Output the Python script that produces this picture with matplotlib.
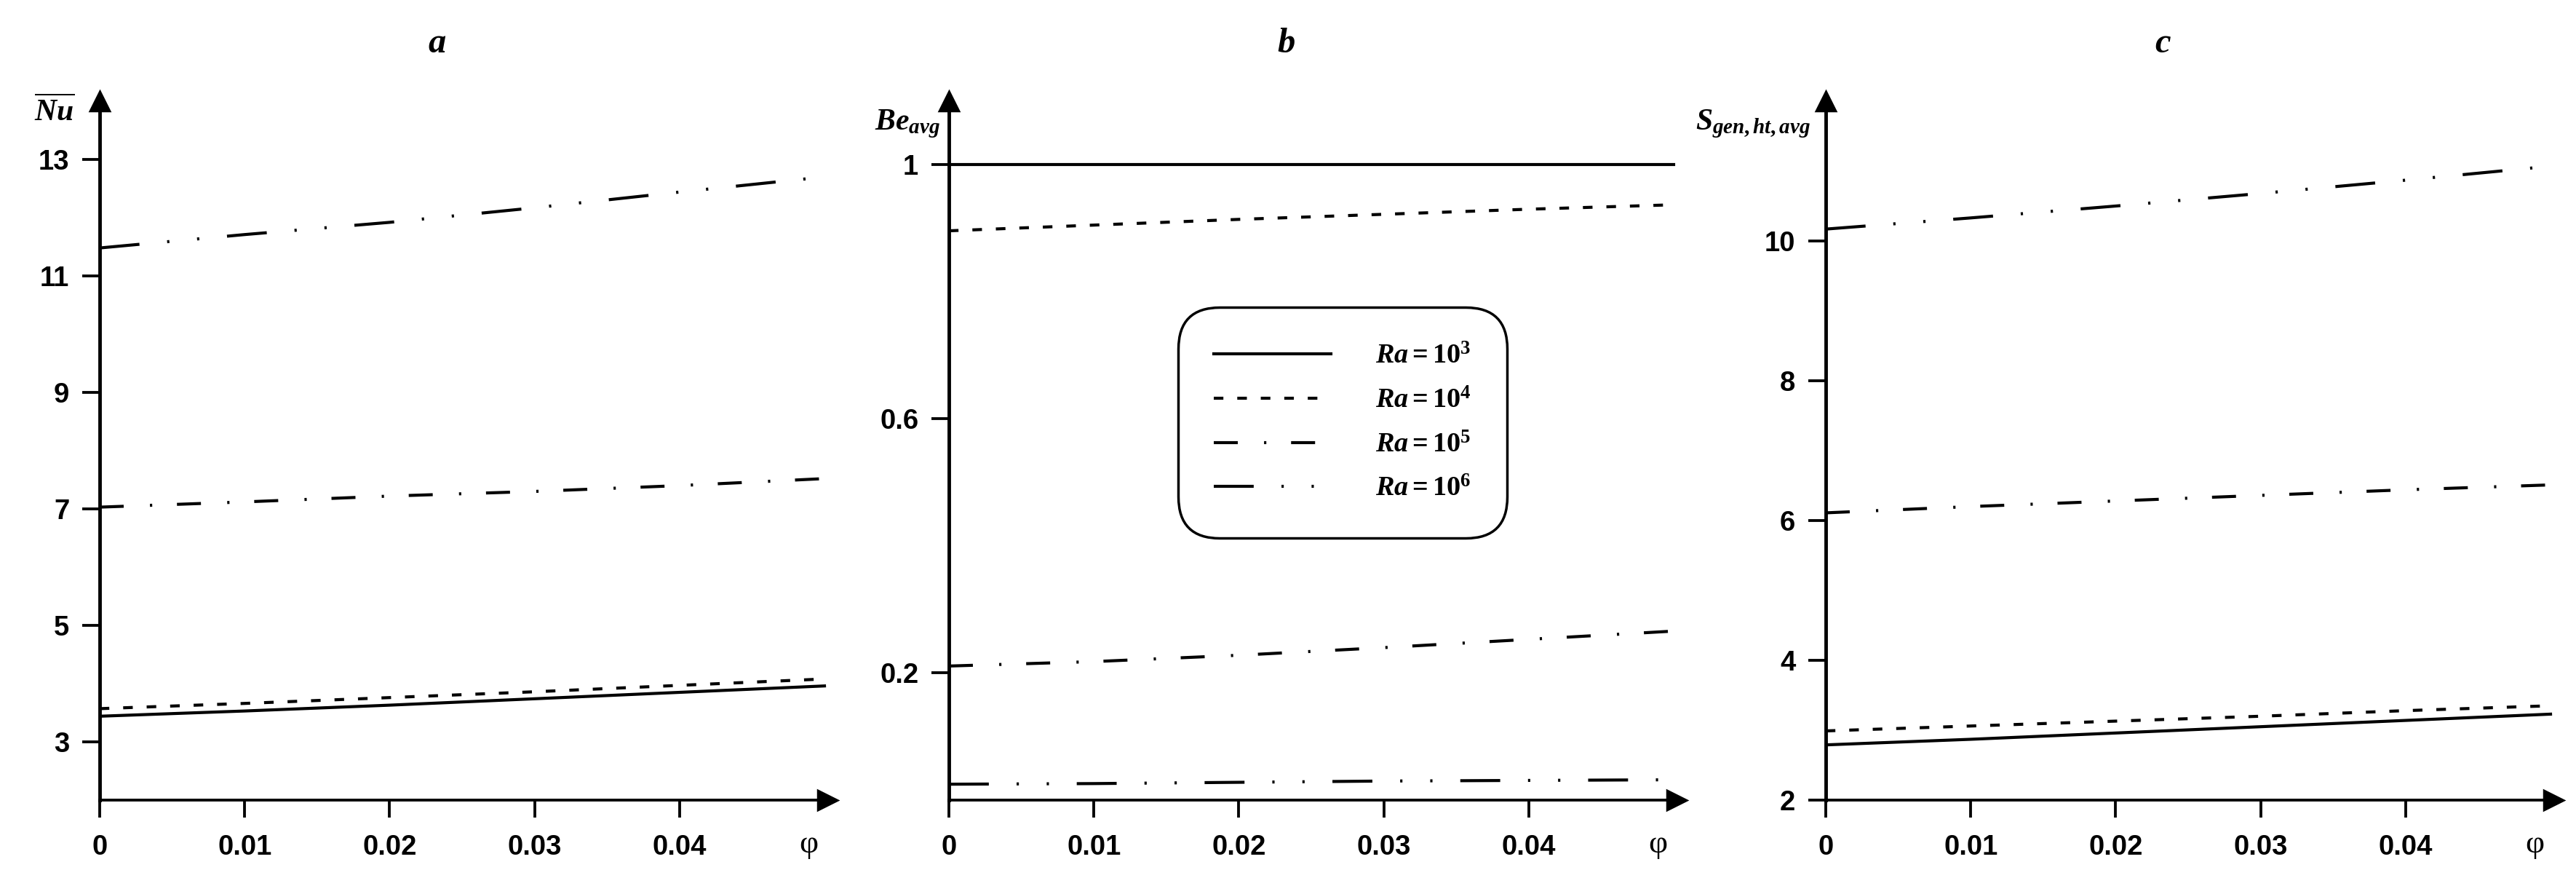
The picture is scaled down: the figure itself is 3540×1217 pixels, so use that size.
import matplotlib
matplotlib.use("Agg")
import matplotlib.pyplot as plt

# volume fraction
phi = [0.0, 0.01, 0.02, 0.03, 0.04, 0.05]
ra_labels = [r'$Ra = 10^{3}$', r'$Ra = 10^{4}$', r'$Ra = 10^{5}$', r'$Ra = 10^{6}$']

# a: average Nusselt number
nu_ra3 = [3.44, 3.53, 3.63, 3.74, 3.85, 3.96]
nu_ra4 = [3.57, 3.66, 3.76, 3.86, 3.97, 4.08]
nu_ra5 = [7.03, 7.12, 7.22, 7.30, 7.40, 7.52]
nu_ra6 = [11.48, 11.71, 11.92, 12.17, 12.44, 12.70]

# b: average Bejan number
be_ra3 = [1.0, 1.0, 1.0, 1.0, 1.0, 1.0]
be_ra4 = [0.896, 0.905, 0.914, 0.922, 0.930, 0.937]
be_ra5 = [0.211, 0.218, 0.228, 0.240, 0.253, 0.266]
be_ra6 = [0.025, 0.026, 0.028, 0.030, 0.031, 0.032]

# c: average entropy generation due to heat transfer
s_ra3 = [2.79, 2.87, 2.96, 3.05, 3.14, 3.23]
s_ra4 = [2.99, 3.06, 3.13, 3.20, 3.28, 3.35]
s_ra5 = [6.11, 6.20, 6.28, 6.36, 6.44, 6.51]
s_ra6 = [10.17, 10.33, 10.50, 10.68, 10.87, 11.07]

xticks = [0, 0.01, 0.02, 0.03, 0.04]
xticklabels = ['0', '0.01', '0.02', '0.03', '0.04']

panels = [
    ('a', r'$\overline{Nu}$', [nu_ra3, nu_ra4, nu_ra5, nu_ra6], (2, 14), [3, 5, 7, 9, 11, 13], ['3', '5', '7', '9', '11', '13'], (-0.034, 0.985)),
    ('b', r'$Be_{avg}$', [be_ra3, be_ra4, be_ra5, be_ra6], (0, 1.1), [0.2, 0.6, 1.0], ['0.2', '0.6', '1'], (-0.012, 0.967)),
    ('c', r'$S_{gen,ht,avg}$', [s_ra3, s_ra4, s_ra5, s_ra6], (2, 12), [2, 4, 6, 8, 10], ['2', '4', '6', '8', '10'], (-0.021, 0.967)),
]

styles = [
    '-',
    (0, (3.8, 5.5)),
    (0, (9.5, 10.4, 0.9, 9.8)),
    (0, (15.8, 11, 0.9, 11, 0.9, 11)),
]

plt.rcParams['lines.scale_dashes'] = False
plt.rcParams['font.family'] = ['Liberation Sans Narrow', 'Liberation Sans', 'DejaVu Sans']
plt.rcParams['mathtext.fontset'] = 'custom'
plt.rcParams['mathtext.rm'] = 'Liberation Serif:bold'
plt.rcParams['mathtext.it'] = 'Liberation Serif:italic:bold'
plt.rcParams['mathtext.bf'] = 'Liberation Serif:bold'

fig = plt.figure(figsize=(14.16, 4.868), dpi=250)
lefts = [137, 1304, 2509]

for i, (tag, ylab, series, ylim, yt, ytl, ylab_pos) in enumerate(panels):
    ax = fig.add_axes([lefts[i] / 3540, 1 - 1099 / 1217, 1000 / 3540, 960 / 1217])
    for y, ls, lab in zip(series, styles, ra_labels):
        ax.plot(phi, y, color='black', lw=1.2, linestyle=ls, label=lab)
    ax.set_xlim(0, 0.0502)
    ax.set_ylim(*ylim)
    ax.spines['top'].set_visible(False)
    ax.spines['right'].set_visible(False)
    ax.spines['left'].set_linewidth(1.4)
    ax.spines['bottom'].set_linewidth(1.1)
    ax.plot(1, 0, '>k', ms=7.5, transform=ax.transAxes, clip_on=False)
    ax.plot(0, 1, '^k', ms=7.5, transform=ax.transAxes, clip_on=False)
    ax.set_xticks(xticks)
    ax.set_xticklabels(xticklabels)
    ax.set_yticks(yt)
    ax.set_yticklabels(ytl)
    ax.tick_params(direction='out', length=7, width=1.1, labelsize=11, colors='black')
    ax.tick_params(axis='x', pad=6.5)
    ax.tick_params(axis='y', pad=5)
    for lbl in ax.get_xticklabels() + ax.get_yticklabels():
        lbl.set_fontweight('bold')
    ax.text(0.0489, -0.0635, 'φ', transform=ax.get_xaxis_transform(),
            ha='center', va='center', fontsize=13, family='Liberation Serif')
    ax.text(0.4635, 1.082, tag, transform=ax.transAxes, ha='center', va='center',
            fontsize=14, family='Liberation Serif', style='italic', weight='bold')
    ax.text(ylab_pos[0], ylab_pos[1], ylab, transform=ax.transAxes, ha='right', va='center', fontsize=12)
    if tag == 'b':
        leg = ax.legend(loc='center', bbox_to_anchor=(0.541, 0.54), fontsize=11,
                        handlelength=4.2, handletextpad=1.6, labelspacing=0.65,
                        borderpad=1.0, fancybox=True, framealpha=1, edgecolor='black')
        leg.get_frame().set_linewidth(1.0)
        leg.get_frame().set_boxstyle('round', pad=0.3, rounding_size=1.5)

fig.savefig('out.png', dpi=250)
